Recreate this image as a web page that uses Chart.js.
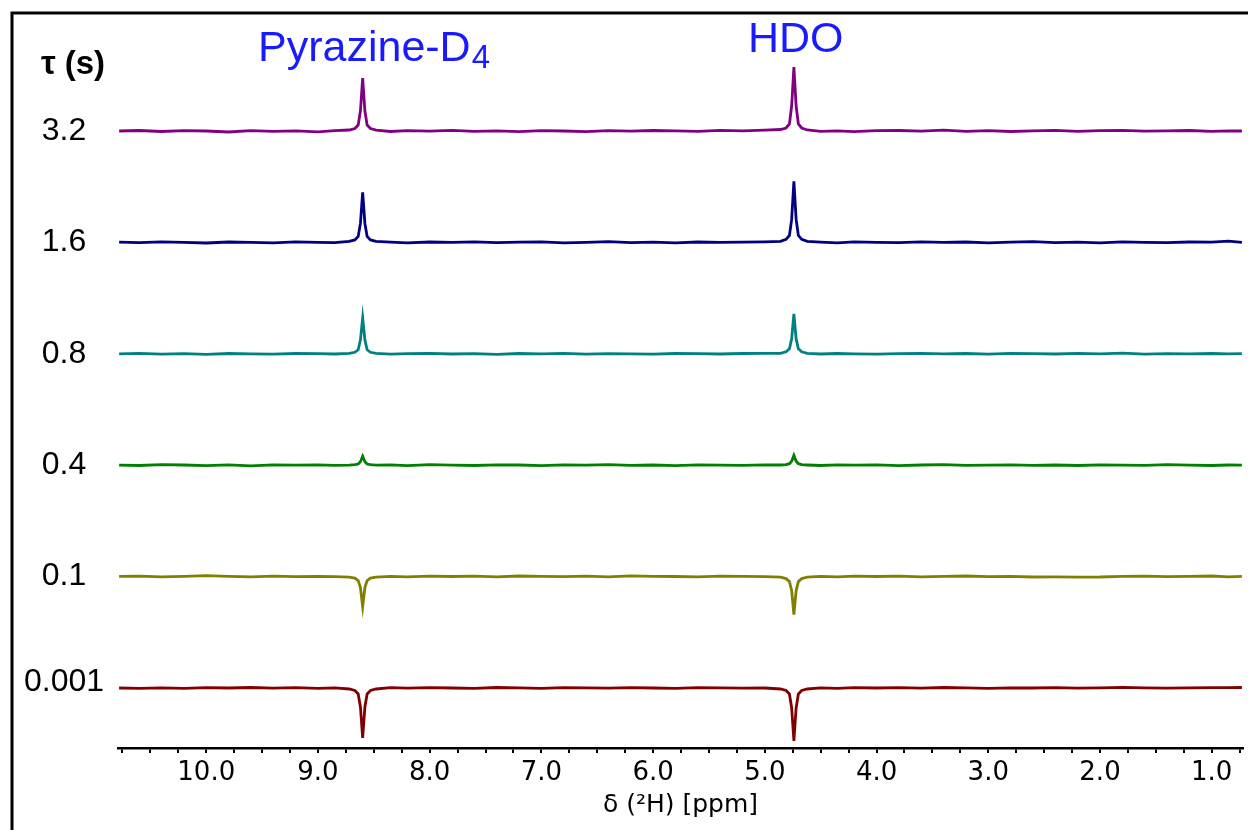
<!DOCTYPE html>
<html>
<head>
<meta charset="utf-8">
<script src="https://cdn.jsdelivr.net/npm/chart.js@4.4.0/dist/chart.umd.min.js"></script>
<style>
  body { margin: 0; background: #fff; }
  canvas { display: block; }
</style>
</head>
<body>
<canvas id="myChart" width="1248" height="830"></canvas>
<script>
// chemical shift grid (ppm), shared by all spectra
var ppm = [10.78, 10.6, 10.4, 10.2, 10.0, 9.8, 9.6, 9.4, 9.2, 9.0, 8.85,
    8.72, 8.67, 8.64, 8.62, 8.60, 8.58, 8.56, 8.53, 8.48,
    8.35, 8.2, 8.0, 7.8, 7.6, 7.4, 7.2, 7.0, 6.8, 6.6, 6.4, 6.2, 6.0, 5.8, 5.6, 5.4, 5.2, 5.0,
    4.86, 4.81, 4.78, 4.76, 4.74, 4.72, 4.70, 4.67, 4.62,
    4.5, 4.35, 4.2, 4.0, 3.8, 3.6, 3.4, 3.2, 3.0, 2.8, 2.6, 2.4, 2.2, 2.0, 1.8, 1.6, 1.4, 1.2, 1.0, 0.85, 0.73];

// recovery delays, bottom trace first
var tauLabels = ['0.001', '0.1', '0.4', '0.8', '1.6', '3.2'];
var colors = ['#800000', '#808000', '#008000', '#008080', '#000080', '#800080'];

// intensities
var s0001 = [0, -0.3, 0.2, -0.4, 0.3, 0, 0.5, -0.2, 0.3, -0.3, 0.2,
    -1, -2.5, -6, -19, -50, -19, -6, -2.5, -1,
    0.3, -0.2, 0.4, 0, -0.3, 0.5, 0.2, -0.4, 0.3, 0.1, -0.2, 0.4, 0, -0.3, 0.3, 0.1, -0.2, 0,
    -1, -2.5, -6, -20, -53, -20, -6, -2.5, -1,
    0.2, -0.3, 0.4, 0, 0.3, -0.2, 0.5, 0.1, -0.3, 0.2, 0, 0.3, -0.2, 0.1, 0.6, 0.2, -0.1, 0.2, 0.3, 0.4, 0.5];
var s01 = [0.2, 0.5, -0.3, 0.3, 1, 0.2, -0.2, 0.4, 0, 0.3, 0,
    -0.5, -1.5, -4, -11, -30, -11, -4, -1.5, -0.5,
    0.3, -0.2, 0.5, 0.1, 0.4, -0.3, 0.6, 0.2, 0, 0.4, -0.2, 0.8, 0.3, 0.1, -0.3, 0.4, 0.2, 0,
    -0.5, -2, -5, -14, -38, -14, -5, -2, -0.5,
    0.3, -0.2, 0.4, 0.1, 0.5, -0.3, 0.2, 0.6, 0, 0.3, -0.4, -0.3, -0.5, -0.4, 0.2, 0.5, -0.1, 0.3, 0.6, -0.2, 0.3];
var s04 = [0, -0.3, 0.5, 0.2, -0.4, 0.3, -0.6, 0.4, 0, 0.3, -0.2,
    0, 0.5, 1.2, 3.5, 9, 3.5, 1.2, 0.5, 0,
    0.3, -0.4, 0.5, 0, -0.3, 0.4, 0.2, -0.5, 0.3, 0, 0.6, -0.2, 0.2, -0.4, 0.3, 0.1, -0.2, 0.3,
    0.2, 0.5, 1.5, 4, 10, 4, 1.5, 0.5, 0.2,
    -0.3, 0.4, 0, 0.3, -0.4, 0.2, 0.5, -0.2, 0, 0.3, -0.1, 0.2, -0.3, 0.4, 0, -0.2, 0.5, 0.1, -0.3, 0.2, 0];
var s08 = [0, 0.4, -0.3, 0.2, -0.5, 0.3, 0, -0.4, 0.3, 0.1, -0.2,
    0.5, 1.5, 4, 14, 36, 14, 4, 1.5, 0.5,
    -0.3, 0.2, 0.4, -0.2, 0.1, -0.5, 0.3, 0, 0.4, -0.3, 0.2, 0, -0.4, 0.3, 0.1, -0.2, 0.3, 0.5,
    0.5, 2, 5, 15, 40, 15, 5, 2, 0.5,
    -0.2, 0.3, 0, -0.4, 0.2, 0.4, -0.1, 0.3, -0.3, 0.5, 0.1, -0.2, 0.4, 0, 0.6, -0.3, 0.2, -0.1, 0.3, 0, 0.2];
var s16 = [0.3, -0.2, 0.5, 0, -0.6, 0.4, 0.1, -0.4, 0.6, 0, -0.3,
    1, 2.5, 6, 19, 50, 19, 6, 2.5, 1,
    0.2, -0.5, 0.4, 0, 0.6, -0.3, 0.2, 0.5, -0.4, 0.1, 0.7, -0.2, 0.3, -0.5, 0.4, 0, 0.3, 0.6,
    1, 3, 7, 23, 61, 23, 7, 3, 1,
    0.3, -0.4, 0.5, 0.1, -0.3, 0.6, 0, 0.4, -0.5, 0.3, 0.7, -0.2, 0.2, -0.4, 0.5, 0.1, -0.3, 0.4, 0.2, 1.2, 0];
var s32 = [0, 0.5, -0.5, 0.3, 0, -1, 0.4, -0.3, 0.2, -0.8, 0.3,
    1, 2.5, 6, 20, 53, 20, 6, 2.5, 0.8,
    -0.5, 0.3, -0.2, 0.6, -0.4, 0.2, -0.6, 0.3, 0, -0.7, 0.4, -0.2, 0.5, 0.1, -0.3, 0.6, 0.2, 0.8,
    1.5, 3, 7, 25, 64, 25, 7, 3, 1,
    -0.4, 0.2, -0.6, 0.3, 0.5, -0.2, 0.8, -0.3, 0.4, -0.5, 0.2, 0.6, -0.4, 0.3, 0.7, -0.2, 0.1, 0.5, -0.3, 0.2, 0];
var spectra = [s0001, s01, s04, s08, s16, s32];

var peakNames = ['Pyrazine-D', 'HDO'];
var peakSub = ['4', ''];

// vertical stacking of the traces
var firstBase = 60, baseStep = 111.4;

var datasets = spectra.map(function (vals, i) {
    var off = firstBase + i * baseStep;
    return {
        label: tauLabels[i],
        data: vals.map(function (v, k) { return { x: ppm[k], y: v + off }; }),
        borderColor: colors[i],
        borderWidth: 2.8,
        pointRadius: 0,
        tension: 0,
        fill: false
    };
});

var decor = {
    id: 'decor',
    afterDraw: function (chart) {
        var ctx = chart.ctx, y = chart.scales.y;
        ctx.save();
        // frame
        ctx.strokeStyle = '#000';
        ctx.lineWidth = 3;
        ctx.beginPath();
        ctx.moveTo(12, 830);
        ctx.lineTo(12, 13);
        ctx.lineTo(1248, 13);
        ctx.stroke();

        // tau labels
        ctx.fillStyle = '#000';
        ctx.textAlign = 'center';
        ctx.textBaseline = 'middle';
        ctx.font = 'bold 33px "Liberation Sans", Arial, sans-serif';
        ctx.fillText('τ (s)', 73, 65);
        ctx.font = '32px "Liberation Sans", Arial, sans-serif';
        tauLabels.forEach(function (t, i) {
            var yy = y.getPixelForValue(firstBase + i * baseStep);
            ctx.fillText(t, 64, i === 0 ? yy - 6 : yy);
        });

        // peak names
        ctx.fillStyle = '#1a1aff';
        ctx.textAlign = 'left';
        ctx.textBaseline = 'alphabetic';
        var pos = [[258, 61], [748, 52]];
        peakNames.forEach(function (n, i) {
            ctx.font = '43px "Liberation Sans", Arial, sans-serif';
            ctx.fillText(n, pos[i][0], pos[i][1]);
            if (peakSub[i]) {
                var w = ctx.measureText(n).width;
                ctx.font = '33px "Liberation Sans", Arial, sans-serif';
                ctx.fillText(peakSub[i], pos[i][0] + w + 1, pos[i][1] + 7);
            }
        });
        ctx.restore();
    }
};

var ctx = document.getElementById('myChart').getContext('2d');
var myChart = new Chart(ctx, {
    type: 'line',
    data: { datasets: datasets },
    options: {
        responsive: false,
        animation: false,
        devicePixelRatio: 1,
        layout: { padding: { left: 118, right: 5, top: 20, bottom: 0 } },
        plugins: { legend: { display: false }, tooltip: { enabled: false } },
        scales: {
            x: {
                type: 'linear',
                reverse: true,
                min: 0.72,
                max: 10.79,
                afterFit: function (s) { s.height = 82; },
                afterBuildTicks: function (s) {
                    var t = [];
                    for (var v = 0.75; v <= 10.76; v += 0.25) t.push({ value: Math.round(v * 100) / 100 });
                    s.ticks = t;
                },
                border: { display: true, color: '#000', width: 2.5 },
                grid: { drawOnChartArea: false, drawTicks: true, tickLength: 5, color: '#000', lineWidth: 2 },
                ticks: {
                    autoSkip: false,
                    maxRotation: 0,
                    padding: 5,
                    color: '#000',
                    font: { family: '"DejaVu Sans", Verdana, sans-serif', size: 26 },
                    callback: function (v) { return Number.isInteger(v) ? v.toFixed(1) : ''; }
                },
                title: {
                    display: true,
                    text: 'δ (²H) [ppm]',
                    color: '#000',
                    font: { family: '"DejaVu Sans", Verdana, sans-serif', size: 25 },
                    padding: { top: 0, bottom: 10 }
                }
            },
            y: { display: false, min: 0, max: 728 }
        }
    },
    plugins: [decor]
});
</script>
</body>
</html>
